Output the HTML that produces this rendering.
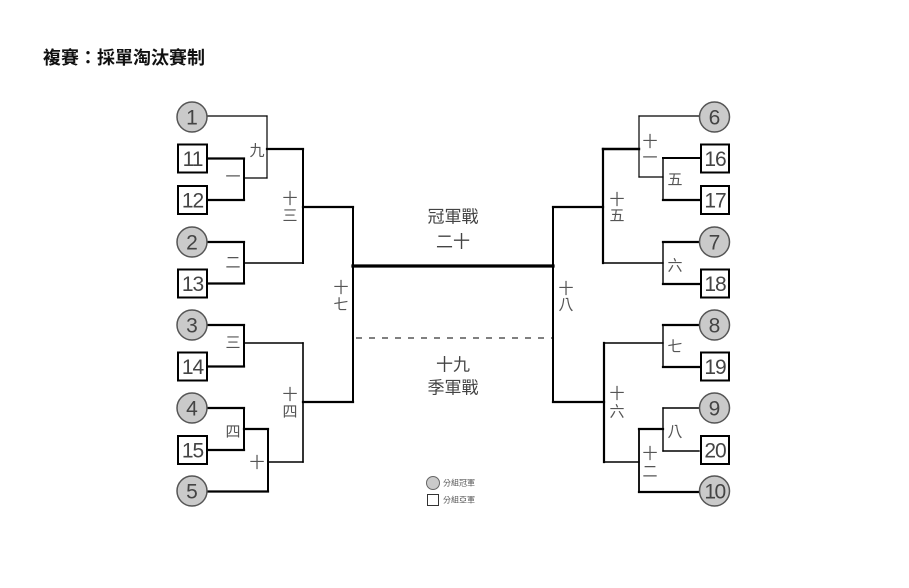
<!DOCTYPE html>
<html>
<head>
<meta charset="utf-8">
<style>
html,body{margin:0;padding:0;background:#fff;}
svg{display:block;}
.t{font-family:"Liberation Sans","Noto Sans CJK TC","Noto Sans CJK SC",sans-serif;}
.lbl{font-size:15px;fill:#555;text-anchor:middle;dominant-baseline:central;}
.mid{font-size:17px;fill:#444;text-anchor:middle;dominant-baseline:central;}
.num{font-size:21px;fill:#444;text-anchor:middle;dominant-baseline:central;}
</style>
</head>
<body>
<svg width="909" height="588" viewBox="0 0 909 588" xmlns="http://www.w3.org/2000/svg">
<rect width="909" height="588" fill="#fff"/>
<text class="t" x="43" y="58" font-size="18" font-weight="bold" fill="#111" dominant-baseline="central">複賽：採單淘汰賽制</text>

<g stroke="#000" fill="none" stroke-linecap="square">
<!-- LEFT -->
<line x1="208" y1="116" x2="267" y2="116" stroke-width="1.2"/>
<line x1="267" y1="116" x2="267" y2="178" stroke-width="1.2"/>
<line x1="208" y1="158.5" x2="244" y2="158.5" stroke-width="2.2"/>
<line x1="208" y1="200" x2="244" y2="200" stroke-width="2.2"/>
<line x1="244" y1="158.5" x2="244" y2="200" stroke-width="2"/>
<line x1="244" y1="178" x2="267" y2="178" stroke-width="1.2"/>
<line x1="267" y1="149" x2="303" y2="149" stroke-width="2.2"/>
<line x1="303" y1="149" x2="303" y2="263" stroke-width="2"/>
<line x1="208" y1="242" x2="244" y2="242" stroke-width="2.2"/>
<line x1="208" y1="283.5" x2="244" y2="283.5" stroke-width="2.2"/>
<line x1="244" y1="242" x2="244" y2="283.5" stroke-width="2"/>
<line x1="244" y1="263" x2="303" y2="263" stroke-width="1.4"/>
<line x1="303" y1="207" x2="353" y2="207" stroke-width="2.2"/>
<line x1="353" y1="207" x2="353" y2="402" stroke-width="2"/>

<line x1="208" y1="325" x2="244" y2="325" stroke-width="2.2"/>
<line x1="208" y1="366.5" x2="244" y2="366.5" stroke-width="2.2"/>
<line x1="244" y1="325" x2="244" y2="366.5" stroke-width="2"/>
<line x1="244" y1="343" x2="303" y2="343" stroke-width="1.4"/>
<line x1="303" y1="343" x2="303" y2="462" stroke-width="1.6"/>
<line x1="303" y1="402" x2="353" y2="402" stroke-width="2.2"/>
<line x1="208" y1="408" x2="244" y2="408" stroke-width="2.2"/>
<line x1="208" y1="450" x2="244" y2="450" stroke-width="2.2"/>
<line x1="244" y1="408" x2="244" y2="450" stroke-width="2"/>
<line x1="244" y1="429" x2="268" y2="429" stroke-width="2.2"/>
<line x1="268" y1="429" x2="268" y2="491.5" stroke-width="2"/>
<line x1="208" y1="491.5" x2="268" y2="491.5" stroke-width="2.2"/>
<line x1="268" y1="462" x2="303" y2="462" stroke-width="1.4"/>

<!-- CENTER -->
<line x1="353" y1="266" x2="553" y2="266" stroke-width="3.2"/>
<line x1="356" y1="338" x2="553" y2="338" stroke-width="1" stroke-dasharray="6 7" stroke-linecap="butt"/>

<!-- RIGHT -->
<line x1="699" y1="116" x2="639" y2="116" stroke-width="1.2"/>
<line x1="639" y1="116" x2="639" y2="177" stroke-width="1.2"/>
<line x1="699" y1="158" x2="663" y2="158" stroke-width="2"/>
<line x1="699" y1="200" x2="663" y2="200" stroke-width="2.2"/>
<line x1="663" y1="158" x2="663" y2="200" stroke-width="1.4"/>
<line x1="639" y1="177" x2="663" y2="177" stroke-width="1.2"/>
<line x1="639" y1="149" x2="603" y2="149" stroke-width="2.4"/>
<line x1="603" y1="149" x2="603" y2="263" stroke-width="2.2"/>
<line x1="699" y1="242" x2="663" y2="242" stroke-width="2.2"/>
<line x1="699" y1="284" x2="663" y2="284" stroke-width="2.2"/>
<line x1="663" y1="242" x2="663" y2="284" stroke-width="1.4"/>
<line x1="663" y1="263" x2="603" y2="263" stroke-width="1.4"/>
<line x1="603" y1="207" x2="553" y2="207" stroke-width="2.2"/>
<line x1="553" y1="207" x2="553" y2="402" stroke-width="2"/>

<line x1="699" y1="325" x2="663" y2="325" stroke-width="2.2"/>
<line x1="699" y1="367" x2="663" y2="367" stroke-width="2.2"/>
<line x1="663" y1="325" x2="663" y2="367" stroke-width="1.4"/>
<line x1="663" y1="343" x2="604" y2="343" stroke-width="1.4"/>
<line x1="604" y1="343" x2="604" y2="462" stroke-width="2.2"/>
<line x1="604" y1="402" x2="553" y2="402" stroke-width="2.2"/>
<line x1="699" y1="408" x2="663" y2="408" stroke-width="1.4"/>
<line x1="699" y1="451" x2="663" y2="451" stroke-width="1.4"/>
<line x1="663" y1="408" x2="663" y2="451" stroke-width="1.4"/>
<line x1="663" y1="429" x2="639" y2="429" stroke-width="2.2"/>
<line x1="639" y1="429" x2="639" y2="492" stroke-width="1.8"/>
<line x1="699" y1="492" x2="639" y2="492" stroke-width="2.2"/>
<line x1="639" y1="462" x2="604" y2="462" stroke-width="1.4"/>
</g>

<g stroke-width="1.5">
<circle cx="192" cy="117" r="15" fill="#cacaca" stroke="#555"/>
<rect x="178" y="144.5" width="29" height="28" fill="#fff" stroke="#000" stroke-width="2"/>
<rect x="178" y="186" width="29" height="28" fill="#fff" stroke="#000" stroke-width="2"/>
<circle cx="192" cy="242" r="15" fill="#cacaca" stroke="#555"/>
<rect x="178" y="269.5" width="29" height="28" fill="#fff" stroke="#000" stroke-width="2"/>
<circle cx="192" cy="325" r="15" fill="#cacaca" stroke="#555"/>
<rect x="178" y="352.5" width="29" height="28" fill="#fff" stroke="#000" stroke-width="2"/>
<circle cx="192" cy="408" r="15" fill="#cacaca" stroke="#555"/>
<rect x="178" y="436" width="29" height="28" fill="#fff" stroke="#000" stroke-width="2"/>
<circle cx="192" cy="491" r="15" fill="#cacaca" stroke="#555"/>

<circle cx="714.5" cy="117" r="15" fill="#cacaca" stroke="#555"/>
<rect x="701" y="144.5" width="28" height="28" fill="#fff" stroke="#000" stroke-width="2"/>
<rect x="701" y="186" width="28" height="28" fill="#fff" stroke="#000" stroke-width="2"/>
<circle cx="714.5" cy="242" r="15" fill="#cacaca" stroke="#555"/>
<rect x="701" y="269.5" width="28" height="28" fill="#fff" stroke="#000" stroke-width="2"/>
<circle cx="714.5" cy="325" r="15" fill="#cacaca" stroke="#555"/>
<rect x="701" y="352.5" width="28" height="28" fill="#fff" stroke="#000" stroke-width="2"/>
<circle cx="714.5" cy="408" r="15" fill="#cacaca" stroke="#555"/>
<rect x="701" y="436" width="28" height="28" fill="#fff" stroke="#000" stroke-width="2"/>
<circle cx="714.5" cy="491" r="15" fill="#cacaca" stroke="#555"/>
</g>

<g class="t">
<text class="num" x="192" y="118">1</text>
<text class="num" x="192.5" y="159.5" letter-spacing="-1">11</text>
<text class="num" x="192.5" y="201" letter-spacing="-1">12</text>
<text class="num" x="192" y="243">2</text>
<text class="num" x="192.5" y="284.5" letter-spacing="-1">13</text>
<text class="num" x="192" y="326">3</text>
<text class="num" x="192.5" y="367.5" letter-spacing="-1">14</text>
<text class="num" x="192" y="409">4</text>
<text class="num" x="192.5" y="451" letter-spacing="-1">15</text>
<text class="num" x="192" y="492">5</text>

<text class="num" x="714.5" y="118">6</text>
<text class="num" x="715" y="159.5" letter-spacing="-1">16</text>
<text class="num" x="715" y="201" letter-spacing="-1">17</text>
<text class="num" x="714.5" y="243">7</text>
<text class="num" x="715" y="284.5" letter-spacing="-1">18</text>
<text class="num" x="714.5" y="326">8</text>
<text class="num" x="715" y="367.5" letter-spacing="-1">19</text>
<text class="num" x="714.5" y="409">9</text>
<text class="num" x="715" y="451" letter-spacing="-1">20</text>
<text class="num" x="714.5" y="492" letter-spacing="-1.5">10</text>

<text class="lbl" x="257" y="151">九</text>
<text class="lbl" x="233" y="177">一</text>
<text class="lbl" x="233" y="263">二</text>
<text class="lbl" x="290" y="199">十</text>
<text class="lbl" x="290" y="216">三</text>
<text class="lbl" x="233" y="343">三</text>
<text class="lbl" x="290" y="395">十</text>
<text class="lbl" x="290" y="412">四</text>
<text class="lbl" x="233" y="432">四</text>
<text class="lbl" x="257" y="463">十</text>
<text class="lbl" x="341" y="288">十</text>
<text class="lbl" x="341" y="305">七</text>

<text class="lbl" x="650" y="142">十</text>
<text class="lbl" x="650" y="158">一</text>
<text class="lbl" x="675" y="180">五</text>
<text class="lbl" x="617" y="200">十</text>
<text class="lbl" x="617" y="216">五</text>
<text class="lbl" x="675" y="266">六</text>
<text class="lbl" x="566" y="289">十</text>
<text class="lbl" x="566" y="305">八</text>
<text class="lbl" x="675" y="347">七</text>
<text class="lbl" x="617" y="394">十</text>
<text class="lbl" x="617" y="412">六</text>
<text class="lbl" x="675" y="432">八</text>
<text class="lbl" x="650" y="454">十</text>
<text class="lbl" x="650" y="472">二</text>

<text class="mid" x="453" y="217">冠軍戰</text>
<text class="mid" x="453" y="242">二十</text>
<text class="mid" x="453" y="365">十九</text>
<text class="mid" x="453" y="388">季軍戰</text>

<circle cx="433" cy="483" r="6.5" fill="#cacaca" stroke="#666" stroke-width="1"/>
<rect x="427.5" y="494.5" width="11" height="11" fill="#fff" stroke="#333" stroke-width="1"/>
<text x="443" y="483" font-size="8" fill="#555" dominant-baseline="central">分組冠軍</text>
<text x="443" y="500" font-size="8" fill="#555" dominant-baseline="central">分組亞軍</text>
</g>
</svg>
</body>
</html>
